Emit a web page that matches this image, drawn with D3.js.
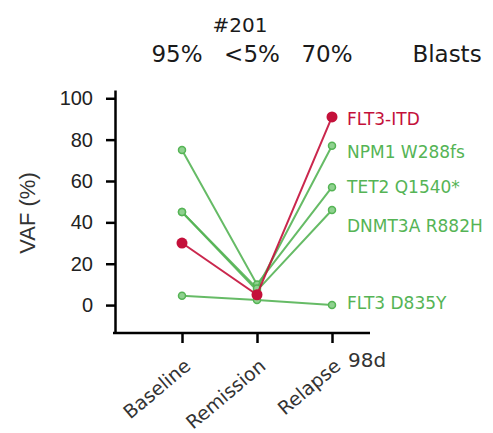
<!DOCTYPE html>
<html>
<head>
<meta charset="utf-8">
<script src="https://cdn.jsdelivr.net/npm/d3@7"></script>
<style>
  body { margin: 0; background: #fff; }
  text { font-family: "DejaVu Sans", sans-serif; }
</style>
</head>
<body>
<script>
// timepoints and blast %
var timepoints = ["Baseline", "Remission", "Relapse"];
var blasts = ["95%", "<5%", "70%"];
var yTicks = [0, 20, 40, 60, 80, 100];

// VAF (%) per mutation at each timepoint
var mutations = ["FLT3-ITD", "NPM1 W288fs", "TET2 Q1540*", "DNMT3A R882H", "FLT3 D835Y"];
var flt3itd = [30, 5, 91];
var npm1 = [45, 8, 77];
var tet2 = [75, 10, 57];
var dnmt3a = [45, 7, 46];
var flt3tkd = [4.5, 2.5, 0];
var series = [flt3itd, npm1, tet2, dnmt3a, flt3tkd];

// where the right-hand labels sit, in VAF units
var labelAt = [90, 74, 57, 38, 1];

var red = "#c4103a", green = "#55b455";
var colors = [red, green, green, green, green];

var svg = d3.select("body").append("svg")
   .attr("width", 493)
   .attr("height", 433);

var x = d3.scalePoint().domain(timepoints).range([182, 332]);
var y = d3.scaleLinear().domain([-13.5, 104]).range([333, 90]);

// y axis
var yAxis = svg.append("g")
   .attr("transform", "translate(115,0)")
   .call(d3.axisLeft(y).tickValues(yTicks).tickSize(9).tickSizeOuter(0).tickPadding(13));
yAxis.select(".domain").attr("stroke-width", 2.5);
yAxis.selectAll(".tick line").attr("stroke-width", 2.5);
yAxis.selectAll(".tick text")
   .style("font-family", "Liberation Sans, Arial, sans-serif")
   .style("font-size", "20px")
   .attr("fill", "#222");

// x axis
var xAxis = svg.append("g")
   .attr("transform", "translate(0,333)")
   .call(d3.axisBottom(x).tickSize(10).tickSizeOuter(0).tickFormat(""));
xAxis.select(".domain").attr("d", "M113,0H370").attr("stroke-width", 2.5);
xAxis.selectAll(".tick line").attr("stroke-width", 2.5);

svg.selectAll(".xlab")
   .data(timepoints)
   .enter()
   .append("text")
   .attr("class", "xlab")
   .attr("transform", function(d) { return "translate(" + (x(d) + 10) + ",368) rotate(-40)"; })
   .attr("text-anchor", "end")
   .style("font-size", "19px")
   .attr("fill", "#333")
   .text(function(d) { return d; });

svg.append("text")
   .attr("x", 348).attr("y", 367)
   .style("font-size", "20px")
   .attr("fill", "#333")
   .text("98d");

// y label
svg.append("text")
   .attr("transform", "translate(35,213) rotate(-90)")
   .attr("text-anchor", "middle")
   .style("font-family", "Liberation Sans, Arial, sans-serif")
   .style("font-size", "22px")
   .attr("fill", "#333")
   .text("VAF (%)");

// header
svg.append("text")
   .attr("x", 240).attr("y", 32)
   .attr("text-anchor", "middle")
   .style("font-size", "20px")
   .attr("fill", "#1a1a1a")
   .text("#201");

svg.selectAll(".blast")
   .data(blasts)
   .enter()
   .append("text")
   .attr("class", "blast")
   .attr("x", function(d, i) { return x(timepoints[i]) - 5; })
   .attr("y", 62)
   .attr("text-anchor", "middle")
   .style("font-size", "23px")
   .attr("fill", "#1a1a1a")
   .text(function(d) { return d; });

svg.append("text")
   .attr("x", 447).attr("y", 62)
   .attr("text-anchor", "middle")
   .style("font-size", "23px")
   .attr("fill", "#1a1a1a")
   .text("Blasts");

// lines, green first so red sits on top
var order = [4, 3, 2, 1, 0];
var line = d3.line()
   .x(function(d, i) { return x(timepoints[i]); })
   .y(function(d) { return y(d); });

order.forEach(function(k) {
  var g = svg.append("g");
  g.append("path")
   .attr("d", line(series[k]))
   .attr("fill", "none")
   .attr("stroke", colors[k])
   .attr("stroke-width", 2)
   .attr("stroke-opacity", 0.9);
  g.selectAll("circle")
   .data(series[k])
   .enter()
   .append("circle")
   .attr("cx", function(d, i) { return x(timepoints[i]); })
   .attr("cy", function(d) { return y(d); })
   .attr("r", k == 0 ? 5.5 : 3.5)
   .attr("fill", k == 0 ? red : "#8fd18f")
   .attr("stroke", colors[k])
   .attr("stroke-width", k == 0 ? 0 : 1.5);
});

// mutation labels
svg.selectAll(".mlab")
   .data(mutations)
   .enter()
   .append("text")
   .attr("class", "mlab")
   .attr("x", 347)
   .attr("y", function(d, i) { return y(labelAt[i]); })
   .attr("dy", "0.35em")
   .style("font-size", "17px")
   .attr("fill", function(d, i) { return colors[i]; })
   .text(function(d) { return d; });
</script>
</body>
</html>
